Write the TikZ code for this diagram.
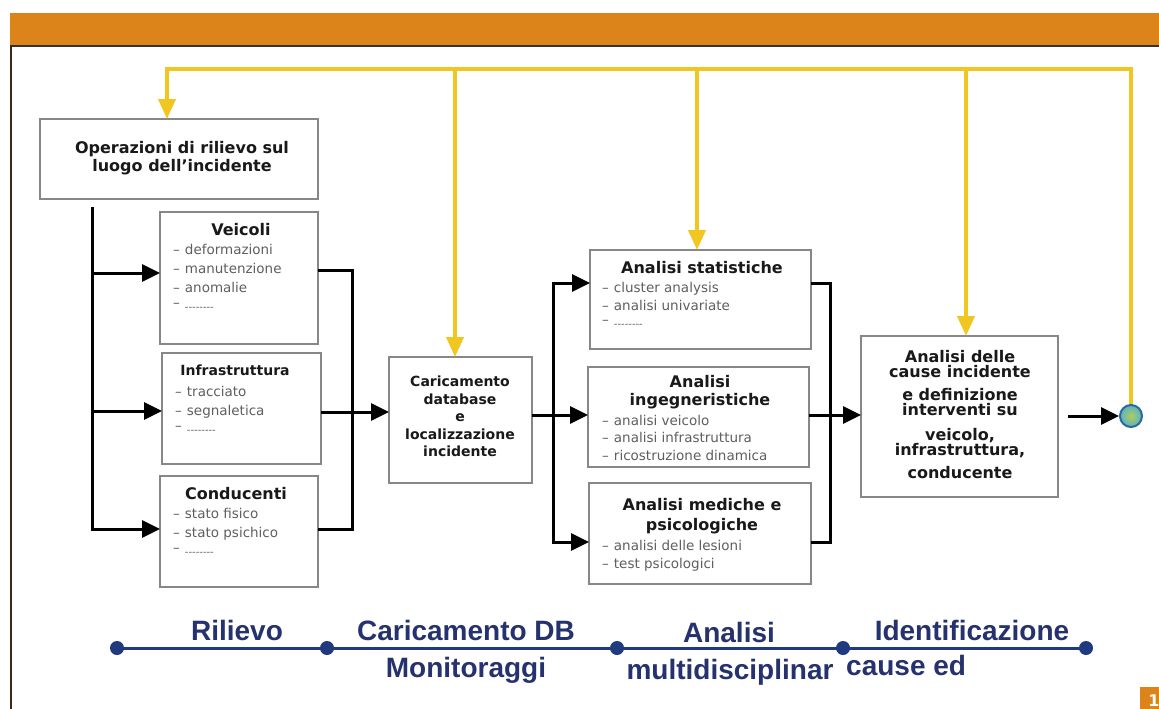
\documentclass[tikz,border=0pt]{standalone}
\usepackage{fontspec}
\setmainfont{DejaVu Sans}
\newfontfamily\tlfont{Liberation Sans}
\usetikzlibrary{arrows.meta}
\definecolor{orangebar}{RGB}{220,132,26}
\definecolor{yel}{RGB}{242,198,32}
\definecolor{boxgray}{RGB}{135,135,135}
\definecolor{itemgray}{RGB}{95,95,95}
\definecolor{navyline}{RGB}{32,58,128}
\definecolor{navytext}{RGB}{38,50,110}
\definecolor{ringfill}{RGB}{90,178,196}
\definecolor{ringblue}{RGB}{40,105,160}
\definecolor{framedark}{RGB}{60,40,20}
\begin{document}
\begin{tikzpicture}[x=1pt,y=-1pt,
  box/.style={draw=boxgray, line width=1.5pt, fill=white, inner sep=0pt, outer sep=0pt, anchor=north west},
  ttl/.style={font=\bfseries\fontsize{16}{18}\selectfont, inner sep=0pt, align=center, text=black!90},
  itm/.style={font=\fontsize{13.5}{16}\selectfont, inner sep=0pt, anchor=base west, text=itemgray},
  conn/.style={line width=3pt, black, line join=miter},
  arr/.style={conn, -{Triangle[length=18pt,width=17pt]}},
  yl/.style={line width=4pt, yel, line join=miter},
  yarr/.style={yl, -{Triangle[length=20pt,width=17pt]}},
  tl/.style={font=\tlfont\bfseries\fontsize{28}{30}\selectfont, text=navytext, inner sep=0pt, anchor=base},
  tdot/.style={circle, fill=navyline, minimum size=14pt, inner sep=0pt}]
\useasboundingbox (0,0) rectangle (1159,709);
\fill[white] (0,0) rectangle (1159,709);
% frame
\fill[orangebar] (10,13) rectangle (1159,45);
\draw[line width=2.5pt, black!80] (10,46) -- (1159,46);
\draw[line width=2pt, framedark] (11,45) -- (11,709);
\fill[orangebar] (1140,687) rectangle (1159,709);
\node[text=white, font=\bfseries\fontsize{16}{16}\selectfont, anchor=base, inner sep=0pt] (pg) at (1154,706) {1};

% boxes
\node[box, minimum width=278pt, minimum height=80pt] (ope) at (40,119) {};
\node[box, minimum width=158pt, minimum height=132pt] (veic) at (160,212) {};
\node[box, minimum width=159pt, minimum height=111pt] (infr) at (162,353) {};
\node[box, minimum width=158pt, minimum height=111pt] (cond) at (160,476) {};
\node[box, minimum width=143pt, minimum height=126pt] (car) at (389,357) {};
\node[box, minimum width=221pt, minimum height=99pt] (stat) at (590,250) {};
\node[box, minimum width=221pt, minimum height=100pt] (ing) at (588,367) {};
\node[box, minimum width=222pt, minimum height=101pt] (med) at (589,483) {};
\node[box, minimum width=197pt, minimum height=161pt] (cause) at (861,336) {};

% texts
\node[ttl, anchor=north] (opeT) at (182,141) {Operazioni di rilievo sul\\luogo dell'incidente};

\node[ttl, anchor=base] (veicT) at (241,235) {Veicoli};
\node[itm] (v1) at (173,254) {\textendash\hspace{5pt}deformazioni};
\node[itm] (v2) at (173,273) {\textendash\hspace{5pt}manutenzione};
\node[itm] (v3) at (173,292) {\textendash\hspace{5pt}anomalie};
\node[itm] (v4) at (173,307) {\textendash\hspace{5pt}\raisebox{-3pt}{\fontsize{10}{10}\selectfont -{}-{}-{}-{}-{}-{}-{}-}};

\node[ttl, anchor=base, font=\bfseries\fontsize{14}{16}\selectfont] (infrT) at (235,375) {Infrastruttura};
\node[itm] (i1) at (175,396) {\textendash\hspace{5pt}tracciato};
\node[itm] (i2) at (175,415) {\textendash\hspace{5pt}segnaletica};
\node[itm] (i3) at (175,430) {\textendash\hspace{5pt}\raisebox{-3pt}{\fontsize{10}{10}\selectfont -{}-{}-{}-{}-{}-{}-{}-}};

\node[ttl, anchor=base] (condT) at (236,499) {Conducenti};
\node[itm] (c1) at (173,518) {\textendash\hspace{5pt}stato fisico};
\node[itm] (c2) at (173,537) {\textendash\hspace{5pt}stato psichico};
\node[itm] (c3) at (173,552) {\textendash\hspace{5pt}\raisebox{-3pt}{\fontsize{10}{10}\selectfont -{}-{}-{}-{}-{}-{}-{}-}};

\node[ttl, anchor=north, font=\bfseries\fontsize{14}{17.5}\selectfont] (carT) at (460,376) {Caricamento\\database\\e\\localizzazione\\incidente};

\node[ttl, anchor=base] (statT) at (702,273) {Analisi statistiche};
\node[itm] (s1) at (602,292) {\textendash\hspace{5pt}cluster analysis};
\node[itm] (s2) at (602,310) {\textendash\hspace{5pt}analisi univariate};
\node[itm] (s3) at (602,324) {\textendash\hspace{5pt}\raisebox{-3pt}{\fontsize{10}{10}\selectfont -{}-{}-{}-{}-{}-{}-{}-}};

\node[ttl, anchor=north] (ingT) at (700,375) {Analisi\\ingegneristiche};
\node[itm] (g1) at (602,425) {\textendash\hspace{5pt}analisi veicolo};
\node[itm] (g2) at (602,442) {\textendash\hspace{5pt}analisi infrastruttura};
\node[itm] (g3) at (602,460) {\textendash\hspace{5pt}ricostruzione dinamica};

\node[ttl, anchor=north, font=\bfseries\fontsize{16}{20}\selectfont] (medT) at (702,498) {Analisi mediche e\\psicologiche};
\node[itm] (m1) at (602,550) {\textendash\hspace{5pt}analisi delle lesioni};
\node[itm] (m2) at (602,568) {\textendash\hspace{5pt}test psicologici};

\node[ttl, anchor=north, font=\bfseries\fontsize{16}{15}\selectfont] (causeT) at (960,350) {Analisi delle\\cause incidente\\[8pt]e definizione\\interventi su\\[10pt]veicolo,\\infrastruttura,\\[8pt]conducente};

% black connectors
\coordinate (tA) at (92,207);
\coordinate (tB) at (92,529);
\coordinate (tV) at (92,273);
\coordinate (tI) at (92,411);
\draw[arr] (tA) -- (tB) -- (tB -| cond.west);
\draw[arr] (tV) -- (tV -| veic.west);
\draw[arr] (tI) -- (tI -| infr.west);

\coordinate (cV) at (352,270);
\coordinate (cC) at (352,529);
\coordinate (cI) at (352,412);
\draw[conn] (veic.east |- cV) -- (cV) -- (cC) -- (cond.east |- cC);
\draw[arr] (infr.east |- cI) -- (car.west |- cI);

\coordinate (dT) at (553,283);
\coordinate (dM) at (553,415);
\coordinate (dB) at (553,542);
\draw[conn, {Triangle[length=18pt,width=17pt]}-{Triangle[length=18pt,width=17pt]}] (stat.west |- dT) -- (dT) -- (dB) -- (med.west |- dB);
\draw[arr] (car.east |- dM) -- (ing.west |- dM);

\coordinate (eT) at (830,283);
\coordinate (eM) at (830,415);
\coordinate (eB) at (830,542);
\draw[conn] (stat.east |- eT) -- (eT) -- (eB) -- (med.east |- eB);
\draw[arr] (ing.east |- eM) -- (cause.west |- eM);

% yellow feedback lines
\coordinate (y0) at (167,69);
\coordinate (y1) at (455,69);
\coordinate (y2) at (697,69);
\coordinate (y3) at (966,69);
\coordinate (y4) at (1131,69);
\coordinate (yE) at (1131,412);
\draw[yarr] (yE) -- (y4) -- (y0) -- (y0 |- ope.north);
\draw[yarr] (y1) -- (y1 |- car.north);
\draw[yarr] (y2) -- (y2 |- stat.north);
\draw[yarr] (y3) -- (y3 |- cause.north);

% end circle
\node[circle, minimum size=22pt, inner sep=0pt, draw=ringblue, line width=2pt, inner color={rgb,255:red,175;green,205;blue,95}, outer color=ringfill] (endc) at (1131,416) {};
\coordinate (eS) at (1068,416);
\draw[arr] (eS) -- (endc.west);

% timeline
\node[tdot] (d1) at (117,648) {};
\node[tdot] (d2) at (327,648) {};
\node[tdot] (d3) at (617,648) {};
\node[tdot] (d4) at (843,648) {};
\node[tdot] (d5) at (1086,648) {};
\draw[navyline, line width=3pt] (d1.center) -- (d5.center);

\node[tl] (l1) at (237,640) {Rilievo};
\node[tl] (l2) at (466,640) {Caricamento DB};
\node[tl] (l3) at (466,677) {Monitoraggi};
\node[tl] (l4) at (729,642) {Analisi};
\node[tl] (l5) at (730,679) {multidisciplinar};
\node[tl] (l6) at (972,640) {Identificazione};
\node[tl, anchor=base west] (l7) at (846,675) {cause ed};
\end{tikzpicture}
\end{document}
